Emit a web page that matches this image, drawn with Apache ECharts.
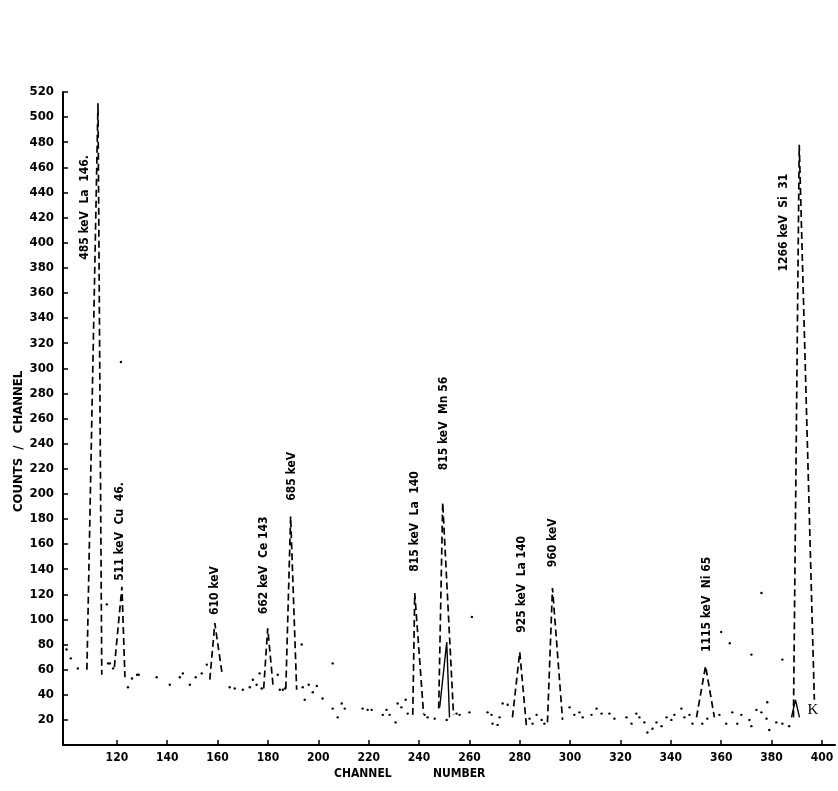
<!DOCTYPE html>
<html>
<head>
<meta charset="utf-8">
<script src="https://cdn.jsdelivr.net/npm/echarts@6/dist/echarts.min.js"></script>
<style>
html,body{margin:0;padding:0;background:#fff;}
#chart{width:838px;height:791px;}
</style>
</head>
<body>
<div id="chart"></div>
<script>
// ---- data ----
const xTicks = [120,140,160,180,200,220,240,260,280,300,320,340,360,380,400];
const yTicks = [20,40,60,80,100,120,140,160,180,200,220,240,260,280,300,320,340,360,380,400,420,440,460,480,500,520];

// dashed peak outlines: [channel, counts]
const peak485  = [[108.1,60],[112.5,511],[114.0,56]];
const peak511  = [[119.0,62],[122.0,126],[123.2,54]];
const peak610  = [[156.9,52],[158.9,97],[161.7,58]];
const peak662  = [[178.3,45],[179.9,93],[182.0,48]];
const peak685  = [[187.1,45],[189.0,182],[191.4,44]];
const peak815La = [[237.5,24],[238.3,121],[241.8,25]];
const peak815Mn = [[247.8,29],[249.4,193],[253.7,24]];
const peak925  = [[277.1,22],[280.0,74],[282.7,14]];
const peak960  = [[291.0,18],[293.0,125],[297.0,20]];
const peak1115 = [[350.2,22],[353.8,63],[357.3,22]];
const peak1266 = [[388.7,22],[391.0,478],[397.0,36]];

// solid inner traces
const innerMn = [[248.2,30],[251.0,82],[252.1,22]];
const caret1266 = [[387.9,22],[389.5,36],[391.1,22]];

// background counts (dots)
const bgChannels = [100.0,101.7,104.5,116.5,117.2,118.5,124.4,126.0,128.0,128.7,135.8,141.0,145.0,146.2,149.0,151.3,153.7,155.7,
  164.8,166.8,170.0,172.8,174.0,175.5,176.7,177.5,183.9,184.7,185.9,186.8,193.8,194.6,196.2,197.8,199.4,201.7,205.7,207.7,209.3,210.5,
  217.6,219.6,221.2,225.6,227.1,228.3,230.7,231.5,233.0,234.7,235.5,242.2,243.4,246.2,251.0,254.9,256.1,260.0,267.2,268.8,269.2,271.2,
  272.0,273.2,275.2,283.9,285.1,286.7,288.7,289.8,299.8,301.7,303.7,305.0,308.5,310.5,312.5,315.6,317.6,322.4,324.4,326.3,327.5,329.5,
  330.7,332.7,334.3,336.3,338.3,340.2,341.4,344.2,345.4,347.4,348.6,352.5,354.5,359.3,362.0,364.4,366.4,368.0,371.2,372.0,374.0,376.0,
  378.0,379.1,381.9,384.3,387.0];
const bgCounts = [76,69,61,65,65,61,46,53,56,56,54,48,54,57,48,54,57,64,
  46,45,44,46,52,48,57,45,56,44,44,45,46,36,48,42,47,37,29,22,33,29,
  29,28,28,24,28,24,18,33,30,36,25,24,22,21,20,25,24,26,26,24,17,16,
  22,33,32,21,17,24,20,17,30,24,26,22,24,29,25,25,21,22,17,25,22,18,
  10,13,18,15,22,20,24,29,22,24,17,17,21,24,17,26,17,24,20,15,28,26,
  21,12,18,17,15];
// stray specks
const strayChannels = [116.0,121.6,193.4,205.7,261.0,360.0,363.4,372.0,376.0,378.3,384.3];
const strayCounts   = [112,305,80,65,102,90,81,72,121,34,68];

// peak labels
const labelText = ["485 keV  La  146.","511 keV  Cu  46.","610 keV","662 keV  Ce 143","685 keV","815 keV  La  140",
  "815 keV  Mn 56","925 keV  La 140","960 keV","1115 keV  Ni 65","1266 keV  Si  31"];
const labelX = [107.3,121.2,158.9,178.5,189.4,238.3,249.8,280.7,293.0,354.5,385.0];
const labelY = [428,170,123,143,214,178,256,128,161,112,416];

const peaks = [peak485,peak511,peak610,peak662,peak685,peak815La,peak815Mn,peak925,peak960,peak1115,peak1266];

// ---- chart ----
const chart = echarts.init(document.getElementById('chart'));
const FONT = 'DejaVu Sans Condensed';
const series = [];
peaks.forEach(function(p){
  series.push({type:'line', data:p, symbol:'none', silent:true, animation:false,
    lineStyle:{color:'#000', width:1.7, type:[7,4]}});
});
[innerMn, caret1266].forEach(function(p){
  series.push({type:'line', data:p, symbol:'none', silent:true, animation:false,
    lineStyle:{color:'#000', width:1.4}});
});
series.push({type:'scatter', symbol:'circle', symbolSize:2.4, animation:false,
  itemStyle:{color:'#000', opacity:1},
  data: bgChannels.map(function(c,i){return [c,bgCounts[i]];})});
series.push({type:'scatter', symbol:'circle', symbolSize:2.4, animation:false,
  itemStyle:{color:'#000', opacity:1},
  data: strayChannels.map(function(c,i){return [c,strayCounts[i]];})});
series.push({type:'scatter', symbolSize:0, animation:false,
  itemStyle:{opacity:1},
  data: labelX.map(function(x,i){return {value:[x,labelY[i]], name:labelText[i]};}),
  label:{show:true, position:'inside', rotate:90, formatter:'{b}', color:'#000', opacity:1,
    textBorderWidth:0, fontFamily:FONT, fontWeight:'bold', fontSize:12}});
series.push({type:'scatter', symbolSize:0, animation:false,
  itemStyle:{opacity:1},
  data:[{value:[396.4,28], name:'K'}],
  label:{show:true, position:'inside', formatter:'{b}', color:'#000', opacity:1, textBorderWidth:0,
    fontFamily:'Liberation Serif', fontSize:15}});

chart.setOption({
  backgroundColor:'#fff',
  animation:false,
  grid:{left:63, right:3, top:92, bottom:46},
  xAxis:{type:'value', min:98.6, max:405.2,
    axisLine:{show:true, lineStyle:{color:'#000', width:2}},
    axisTick:{show:true, inside:true, length:5, customValues:xTicks, lineStyle:{color:'#000', width:1.5}},
    axisLabel:{customValues:xTicks, color:'#000', fontFamily:FONT, fontWeight:'bold', fontSize:12, margin:7},
    splitLine:{show:false}},
  yAxis:{type:'value', min:0, max:520, interval:20,
    axisLine:{show:true, lineStyle:{color:'#000', width:2}},
    axisTick:{show:true, inside:true, length:5, customValues:yTicks, lineStyle:{color:'#000', width:1.5}},
    axisLabel:{customValues:yTicks, color:'#000', fontFamily:FONT, fontWeight:'bold', fontSize:13, margin:9},
    splitLine:{show:false}},
  graphic:[
    {type:'text', left:334, top:768, style:{text:'CHANNEL           NUMBER', fill:'#000', font:'bold 12px "DejaVu Sans Condensed"'}},
    {type:'text', x:12, y:512, rotation:Math.PI/2, style:{text:'COUNTS  /   CHANNEL', fill:'#000', font:'bold 13px "DejaVu Sans Condensed"'}}
  ],
  series:series
});
</script>
</body>
</html>
